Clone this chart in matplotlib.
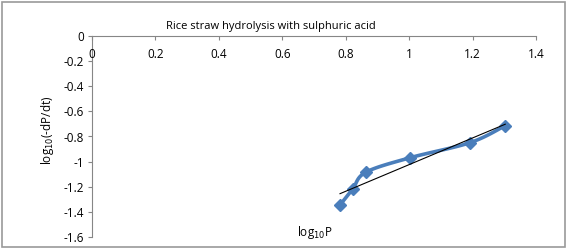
import numpy as np
import matplotlib
matplotlib.use("Agg")
import matplotlib.pyplot as plt
from matplotlib.patches import Rectangle

# Data
log_p = [0.782, 0.822, 0.863, 1.003, 1.192, 1.303]
log_rate = [-1.345, -1.218, -1.085, -0.969, -0.849, -0.714]
x_ticks = [0, 0.2, 0.4, 0.6, 0.8, 1, 1.2, 1.4]
y_ticks = [0, -0.2, -0.4, -0.6, -0.8, -1, -1.2, -1.4, -1.6]
title = "Rice straw hydrolysis with sulphuric acid"

plt.rcParams['font.family'] = ['Open Sans', 'DejaVu Sans']

fig = plt.figure(figsize=(5.67, 2.49), dpi=100)
ax = fig.add_axes([92/567, 1-237/249, (536-92)/567, (237-36)/249])

def smooth(xs, ys, n=20):
    # Catmull-Rom style smoothing for drawing the curve (Excel "smoothed line")
    P = np.column_stack([xs, ys])
    P = np.vstack([P[0], P, P[-1]])
    out = []
    for i in range(1, len(P) - 2):
        p0, p1, p2, p3 = P[i-1], P[i], P[i+1], P[i+2]
        t = np.linspace(0, 1, n, endpoint=(i == len(P) - 3))[:, None]
        seg = 0.5 * ((2*p1) + (-p0 + p2)*t + (2*p0 - 5*p1 + 4*p2 - p3)*t**2 + (-p0 + 3*p1 - 3*p2 + p3)*t**3)
        out.append(seg)
    out = np.vstack(out)
    return out[:, 0], out[:, 1]

sx, sy = smooth(log_p, log_rate)
ax.plot(sx, sy, color='#4A7EBB', lw=2.6, solid_capstyle='round', zorder=2)
ax.plot(log_p, log_rate, ls='none', marker='D', ms=6.5, color='#4A7EBB', zorder=3)

# linear trendline
k, b = np.polyfit(log_p, log_rate, 1)
tx = np.array([min(log_p), max(log_p)])
ax.plot(tx, k*tx + b, color='black', lw=0.8, zorder=4)

ax.set_xlim(0, 1.4)
ax.set_ylim(-1.6, 0)
ax.set_xticks(x_ticks)
ax.set_yticks(y_ticks)
ax.set_yticklabels([f"{v:g}" for v in y_ticks])

for s in ['right', 'bottom']:
    ax.spines[s].set_visible(False)
for s in ['left', 'top']:
    ax.spines[s].set_color('#868686')
    ax.spines[s].set_linewidth(0.8)

ax.xaxis.set_ticks_position('top')
ax.tick_params(axis='x', direction='in', length=3, color='#868686', labeltop=False, labelbottom=False)
ax.tick_params(axis='y', direction='out', length=3, color='#868686', labelsize=8.5, pad=3)
for v in x_ticks:
    ax.text(v, -0.148, f"{v:g}", ha='center', va='center', fontsize=8.5, transform=ax.transData)

fig.text(271/567, 1-26/249, title, ha='center', va='center', fontsize=8)
fig.text(297/567, 1-232/249, r"log$_{10}$P", ha='left', va='center', fontsize=8.5)
fig.text(48/567, 1-130/249, r"log$_{10}$(-dP/dt)", ha='center', va='center', rotation=90, fontsize=8.5)

ax.patch.set_alpha(0)
fig.patches.append(Rectangle((0.004, 0.008), 0.992, 0.984, transform=fig.transFigure,
                             fill=False, edgecolor='#9a9a9a', lw=1.2))
fig.savefig('out.png', dpi=100)
